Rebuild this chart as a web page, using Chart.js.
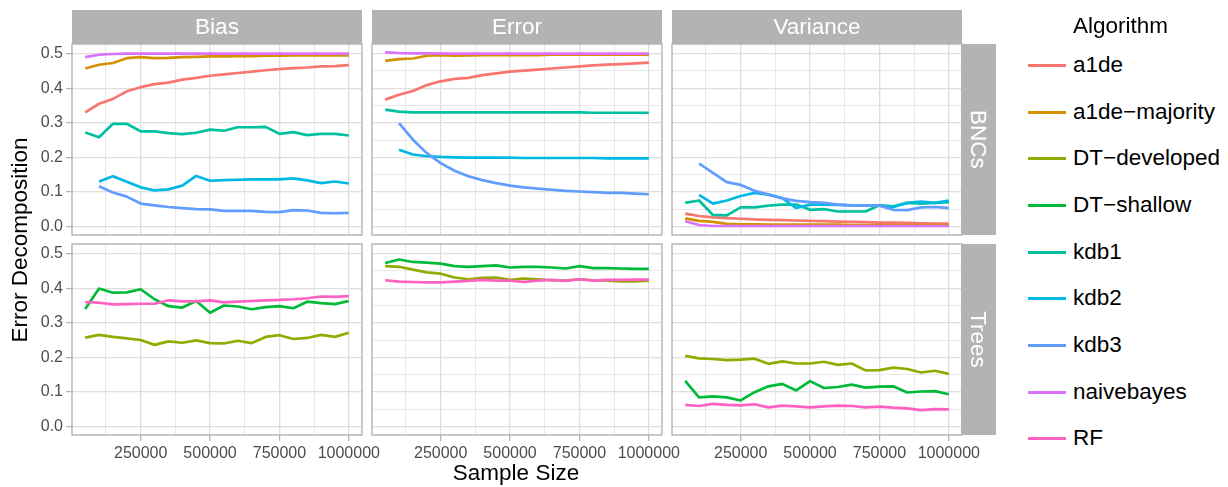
<!DOCTYPE html>
<html>
<head>
<meta charset="utf-8">
<script src="https://cdn.jsdelivr.net/npm/chart.js@4.4.1/dist/chart.umd.min.js"></script>
<style>
  html, body { margin: 0; padding: 0; background: #fff; overflow: hidden; }
  body { width: 1228px; height: 487px; position: relative; font-family: "Liberation Sans", Arial, sans-serif; }
  canvas { position: absolute; }
  .txt { position: absolute; white-space: nowrap; font-size: 22.5px; line-height: 22px; color: #000; }
  .strip { position: absolute; background: #B3B3B3; color: #fff; font-size: 22.5px; text-align: center; }
  .key { position: absolute; height: 3px; width: 38px; left: 1028px; }
</style>
</head>
<body>
<script>
const sampleSizes = [50000, 100000, 150000, 200000, 250000, 300000, 350000, 400000, 450000, 500000,
  550000, 600000, 650000, 700000, 750000, 800000, 850000, 900000, 950000, 1000000]
const algorithms = ["a1de", "a1de\u2212majority", "DT\u2212developed", "DT\u2212shallow", "kdb1", "kdb2", "kdb3", "naivebayes", "RF"]
const colours = ["#F8766D", "#D39200", "#93AA00", "#00BA38", "#00C19F", "#00B9E3", "#619CFF", "#DB72FB", "#FF61C3"]
const components = ["Bias", "Error", "Variance"]
const families = ["BNCs", "Trees"]
const xTicks = [125000, 250000, 375000, 500000, 625000, 750000, 875000, 1000000]
const yTicks = [0, 0.05, 0.1, 0.15, 0.2, 0.25, 0.3, 0.35, 0.4, 0.45, 0.5]

// BNCs - Bias
const biasA1de = [0.330, 0.355, 0.369, 0.391, 0.403, 0.412, 0.416, 0.425, 0.430, 0.436, 0.440, 0.444, 0.448, 0.452, 0.455, 0.458, 0.460, 0.463, 0.464, 0.467]
const biasA1deMaj = [0.457, 0.468, 0.473, 0.487, 0.490, 0.487, 0.488, 0.490, 0.491, 0.492, 0.492, 0.493, 0.493, 0.494, 0.494, 0.495, 0.495, 0.495, 0.495, 0.495]
const biasKdb1 = [0.272, 0.258, 0.297, 0.297, 0.275, 0.275, 0.270, 0.267, 0.271, 0.280, 0.277, 0.287, 0.287, 0.288, 0.268, 0.273, 0.264, 0.268, 0.268, 0.263]
const biasKdb2 = [null, 0.130, 0.145, 0.129, 0.113, 0.104, 0.107, 0.118, 0.146, 0.132, 0.134, 0.135, 0.136, 0.136, 0.136, 0.139, 0.133, 0.125, 0.130, 0.124]
const biasKdb3 = [null, 0.116, 0.098, 0.086, 0.066, 0.061, 0.056, 0.053, 0.050, 0.049, 0.045, 0.045, 0.045, 0.042, 0.041, 0.047, 0.046, 0.039, 0.038, 0.039]
const biasNaive = [0.490, 0.497, 0.499, 0.500, 0.500, 0.500, 0.500, 0.500, 0.500, 0.500, 0.500, 0.500, 0.500, 0.500, 0.500, 0.500, 0.500, 0.500, 0.500, 0.500]

// BNCs - Error
const errA1de = [0.367, 0.381, 0.392, 0.409, 0.420, 0.427, 0.430, 0.438, 0.443, 0.448, 0.451, 0.454, 0.457, 0.460, 0.463, 0.466, 0.468, 0.470, 0.472, 0.474]
const errA1deMaj = [0.479, 0.484, 0.486, 0.494, 0.496, 0.494, 0.495, 0.496, 0.496, 0.496, 0.496, 0.496, 0.497, 0.497, 0.497, 0.497, 0.497, 0.497, 0.497, 0.497]
const errKdb1 = [0.338, 0.332, 0.330, 0.330, 0.330, 0.330, 0.330, 0.330, 0.330, 0.330, 0.330, 0.330, 0.330, 0.330, 0.330, 0.329, 0.329, 0.329, 0.329, 0.329]
const errKdb2 = [null, 0.222, 0.208, 0.203, 0.201, 0.200, 0.199, 0.199, 0.199, 0.199, 0.198, 0.198, 0.198, 0.198, 0.198, 0.198, 0.197, 0.197, 0.197, 0.197]
const errKdb3 = [null, 0.299, 0.251, 0.212, 0.183, 0.161, 0.145, 0.134, 0.125, 0.118, 0.113, 0.109, 0.106, 0.103, 0.101, 0.099, 0.097, 0.097, 0.095, 0.093]
const errNaive = [0.504, 0.502, 0.501, 0.501, 0.500, 0.500, 0.500, 0.500, 0.500, 0.500, 0.500, 0.500, 0.500, 0.500, 0.500, 0.500, 0.500, 0.500, 0.500, 0.500]

// BNCs - Variance
const varA1de = [0.037, 0.030, 0.026, 0.024, 0.022, 0.020, 0.019, 0.018, 0.017, 0.016, 0.015, 0.014, 0.013, 0.012, 0.011, 0.011, 0.010, 0.009, 0.008, 0.008]
const varA1deMaj = [0.023, 0.016, 0.013, 0.007, 0.006, 0.006, 0.005, 0.005, 0.005, 0.005, 0.005, 0.005, 0.004, 0.004, 0.004, 0.004, 0.004, 0.004, 0.004, 0.004]
const varKdb1 = [0.068, 0.075, 0.033, 0.032, 0.055, 0.055, 0.060, 0.063, 0.063, 0.048, 0.050, 0.043, 0.043, 0.043, 0.061, 0.058, 0.068, 0.066, 0.068, 0.070]
const varKdb2 = [null, 0.091, 0.066, 0.075, 0.088, 0.097, 0.092, 0.082, 0.053, 0.063, 0.063, 0.062, 0.061, 0.060, 0.060, 0.056, 0.068, 0.072, 0.068, 0.075]
const varKdb3 = [null, 0.182, 0.155, 0.128, 0.120, 0.103, 0.092, 0.081, 0.074, 0.070, 0.068, 0.063, 0.061, 0.060, 0.060, 0.048, 0.047, 0.055, 0.056, 0.053]
const varNaive = [0.015, 0.004, 0.001, 0.001, 0.001, 0.001, 0.001, 0.001, 0.001, 0.001, 0.001, 0.001, 0.001, 0.001, 0.001, 0.001, 0.001, 0.001, 0.001, 0.001]

// Trees
const biasDtDev = [0.257, 0.265, 0.259, 0.255, 0.250, 0.236, 0.246, 0.242, 0.249, 0.241, 0.240, 0.248, 0.241, 0.259, 0.264, 0.253, 0.256, 0.265, 0.259, 0.271]
const biasDtShallow = [0.340, 0.399, 0.387, 0.388, 0.397, 0.368, 0.348, 0.344, 0.363, 0.329, 0.350, 0.347, 0.339, 0.345, 0.348, 0.342, 0.361, 0.357, 0.354, 0.363]
const biasRf = [0.360, 0.358, 0.353, 0.354, 0.355, 0.355, 0.365, 0.362, 0.362, 0.365, 0.359, 0.361, 0.363, 0.365, 0.366, 0.368, 0.371, 0.376, 0.375, 0.377]
const errDtDev = [0.464, 0.462, 0.454, 0.446, 0.442, 0.431, 0.426, 0.430, 0.431, 0.424, 0.428, 0.426, 0.423, 0.422, 0.426, 0.423, 0.422, 0.420, 0.420, 0.422]
const errDtShallow = [0.473, 0.483, 0.476, 0.474, 0.471, 0.464, 0.462, 0.464, 0.466, 0.460, 0.462, 0.462, 0.460, 0.457, 0.464, 0.458, 0.458, 0.457, 0.456, 0.456]
const errRf = [0.423, 0.419, 0.418, 0.417, 0.417, 0.419, 0.421, 0.424, 0.422, 0.422, 0.418, 0.422, 0.424, 0.421, 0.426, 0.422, 0.424, 0.424, 0.425, 0.425]
const varDtDev = [0.204, 0.197, 0.195, 0.192, 0.193, 0.196, 0.181, 0.188, 0.182, 0.182, 0.187, 0.178, 0.182, 0.162, 0.163, 0.170, 0.166, 0.156, 0.161, 0.152]
const varDtShallow = [0.132, 0.084, 0.087, 0.084, 0.075, 0.099, 0.116, 0.123, 0.104, 0.131, 0.111, 0.114, 0.121, 0.112, 0.115, 0.116, 0.098, 0.101, 0.102, 0.093]
const varRf = [0.062, 0.059, 0.065, 0.062, 0.061, 0.064, 0.055, 0.060, 0.058, 0.055, 0.058, 0.060, 0.059, 0.055, 0.057, 0.054, 0.052, 0.047, 0.050, 0.049]

// series per panel, same order as algorithms
const panels = [
  [
    [biasA1de, biasA1deMaj, null, null, biasKdb1, biasKdb2, biasKdb3, biasNaive, null],
    [errA1de, errA1deMaj, null, null, errKdb1, errKdb2, errKdb3, errNaive, null],
    [varA1de, varA1deMaj, null, null, varKdb1, varKdb2, varKdb3, varNaive, null],
  ],
  [
    [null, null, biasDtDev, biasDtShallow, null, null, null, null, biasRf],
    [null, null, errDtDev, errDtShallow, null, null, null, null, errRf],
    [null, null, varDtDev, varDtShallow, null, null, null, null, varRf],
  ],
]

const P = 40
const panelW = 290, panelH = 191
const yAxisW = 72, xAxisH = 40
const panelLeft = [72, 372, 672]
const panelTop = [44, 244]
const font = '"Liberation Sans", Arial, sans-serif'

const isMajorX = v => v % 250000 === 0
const isMajorY = v => Math.abs(v * 10 - Math.round(v * 10)) < 1e-6

const panelBorder = {
  id: "panelBorder",
  afterDraw(chart) {
    const a = chart.chartArea
    const ctx = chart.ctx
    ctx.save()
    ctx.strokeStyle = "#B3B3B3"
    ctx.lineWidth = 1.4
    ctx.strokeRect(a.left, a.top, a.right - a.left, a.bottom - a.top)
    ctx.restore()
  }
}

function makePanel(r, c) {
  const yW = c === 0 ? yAxisW : 0
  const xH = r === 1 ? xAxisH : 0
  const canvas = document.createElement("canvas")
  canvas.width = P + yW + panelW + P
  canvas.height = P + panelH + xH + P
  canvas.style.left = (panelLeft[c] - yW - P) + "px"
  canvas.style.top = (panelTop[r] - P) + "px"
  document.body.appendChild(canvas)

  const datasets = []
  panels[r][c].forEach((values, i) => {
    if (!values) return
    datasets.push({
      label: algorithms[i],
      data: sampleSizes.map((x, k) => ({ x: x, y: values[k] })),
      borderColor: colours[i],
      backgroundColor: colours[i],
      borderWidth: 2.7,
      pointRadius: 0,
      tension: 0,
      borderJoinStyle: "round",
      fill: false,
      order: algorithms.length - i,
    })
  })

  new Chart(canvas, {
    type: "line",
    data: { datasets },
    options: {
      responsive: false,
      animation: false,
      devicePixelRatio: 1,
      layout: { padding: { left: P, right: P, top: P, bottom: P } },
      plugins: { legend: { display: false }, tooltip: { enabled: false } },
      scales: {
        x: {
          type: "linear",
          min: 2500,
          max: 1047500,
          bounds: "data",
          afterBuildTicks: s => { s.ticks = xTicks.map(v => ({ value: v })) },
          afterFit: s => { s.height = xH },
          ticks: {
            display: r === 1,
            autoSkip: false,
            maxRotation: 0,
            padding: 3,
            color: "#4D4D4D",
            font: { family: font, size: 16 },
            callback: v => isMajorX(v) ? String(v) : "",
          },
          grid: {
            color: "#DEDEDE",
            lineWidth: ctx => ctx.tick && isMajorX(ctx.tick.value) ? 1.3 : 0.7,
            drawTicks: r === 1,
            tickLength: 6,
            tickWidth: 1.2,
            tickColor: ctx => ctx.tick && isMajorX(ctx.tick.value) ? "#B3B3B3" : "rgba(0,0,0,0)",
          },
          border: { display: false },
        },
        y: {
          type: "linear",
          min: -0.025,
          max: 0.528,
          bounds: "data",
          afterBuildTicks: s => { s.ticks = yTicks.map(v => ({ value: v })) },
          afterFit: s => { s.width = yW },
          ticks: {
            display: c === 0,
            padding: 3,
            color: "#4D4D4D",
            font: { family: font, size: 16 },
            callback: v => isMajorY(v) ? v.toFixed(1) : "",
          },
          grid: {
            color: "#DEDEDE",
            lineWidth: ctx => ctx.tick && isMajorY(ctx.tick.value) ? 1.3 : 0.7,
            drawTicks: c === 0,
            tickLength: 6,
            tickWidth: 1.2,
            tickColor: ctx => ctx.tick && isMajorY(ctx.tick.value) ? "#B3B3B3" : "rgba(0,0,0,0)",
          },
          border: { display: false },
        },
      },
    },
    plugins: [panelBorder],
  })
}

function addDiv(cls, text, style) {
  const d = document.createElement("div")
  d.className = cls
  d.textContent = text
  Object.assign(d.style, style)
  document.body.appendChild(d)
  return d
}

for (let r = 0; r < 2; r++) {
  for (let c = 0; c < 3; c++) makePanel(r, c)
}

// facet strips
components.forEach((name, c) => {
  addDiv("strip", name, { left: panelLeft[c] + "px", top: "10px", width: panelW + "px", height: "34px", lineHeight: "34px" })
})
families.forEach((name, r) => {
  const s = addDiv("strip", "", { left: "961px", top: panelTop[r] + "px", width: "35px", height: panelH + "px" })
  const t = document.createElement("div")
  t.textContent = name
  Object.assign(t.style, {
    position: "absolute", width: panelH + "px", height: "35px", lineHeight: "35px",
    left: (35 - panelH) / 2 + "px", top: (panelH - 35) / 2 + "px", transform: "rotate(90deg)",
  })
  s.appendChild(t)
})

// axis titles
addDiv("txt", "Sample Size", { left: "316px", width: "400px", textAlign: "center", top: "462px" })
addDiv("txt", "Error Decomposition", { left: "-180px", width: "400px", textAlign: "center", top: "228.5px", transform: "rotate(-90deg)" })

// legend
addDiv("txt", "Algorithm", { left: "1073px", top: "15px" })
algorithms.forEach((name, i) => {
  const y = Math.round(65 + i * 46.65)
  addDiv("key", "", { top: (y - 1) + "px", background: colours[i] })
  addDiv("txt", name, { left: "1073px", top: (y - 11) + "px" })
})
</script>
</body>
</html>
